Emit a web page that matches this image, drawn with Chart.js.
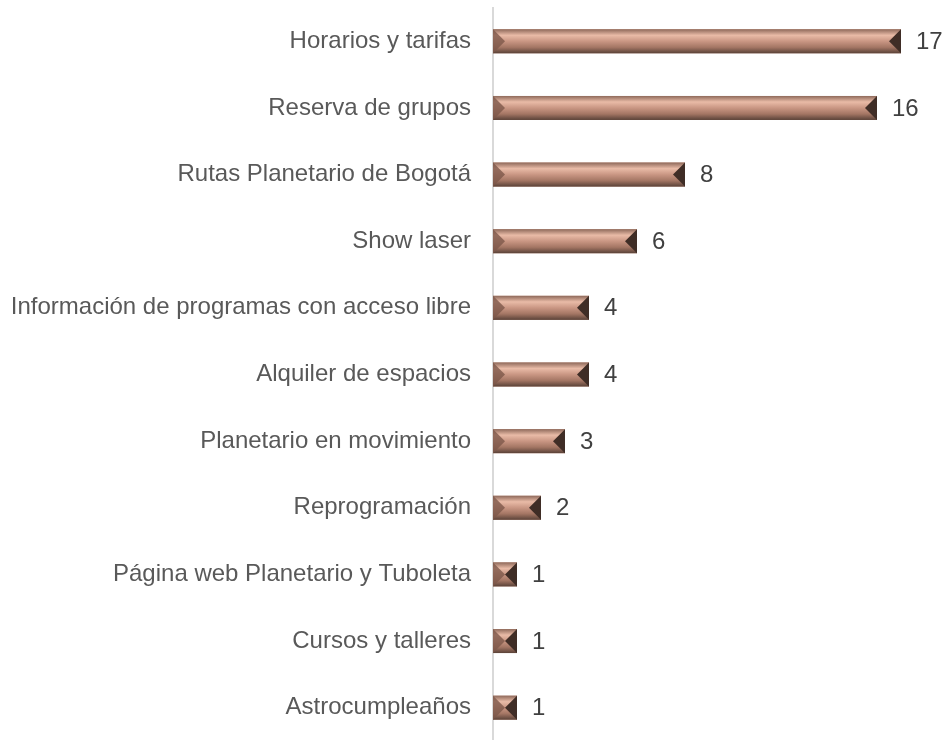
<!DOCTYPE html>
<html>
<head>
<meta charset="utf-8">
<script src="https://cdn.jsdelivr.net/npm/chart.js@4/dist/chart.umd.min.js"></script>
<style>
  html, body { margin: 0; padding: 0; background: #fff; overflow: hidden; }
  #wrap { width: 947px; height: 747px; }
</style>
</head>
<body>
<div id="wrap"><canvas id="chart"></canvas></div>
<script>
const categories = [
  'Horarios y tarifas',
  'Reserva de grupos',
  'Rutas Planetario de Bogotá',
  'Show laser',
  'Información de programas con acceso libre',
  'Alquiler de espacios',
  'Planetario en movimiento',
  'Reprogramación',
  'Página web Planetario y Tuboleta',
  'Cursos y talleres',
  'Astrocumpleaños'
];
const counts = [17, 16, 8, 6, 4, 4, 3, 2, 1, 1, 1];

// bevelled bar look, drawn over each bar using the element's own geometry
const bevelBars = {
  id: 'bevelBars',
  afterDatasetsDraw(chart) {
    const ctx = chart.ctx;
    const meta = chart.getDatasetMeta(0);
    meta.data.forEach((bar, i) => {
      const L = Math.min(bar.base, bar.x), R = Math.max(bar.base, bar.x);
      const T = bar.y - bar.height / 2, B = bar.y + bar.height / 2;
      const b = Math.min(bar.height / 2, (R - L) / 2);
      ctx.save();
      const g = ctx.createLinearGradient(0, T, 0, B);
      g.addColorStop(0, '#8f6a5b');
      g.addColorStop(0.25, '#e9bba7');
      g.addColorStop(0.5, '#c99683');
      g.addColorStop(0.75, '#a47664');
      g.addColorStop(1, '#5a4238');
      ctx.fillStyle = g;
      ctx.fillRect(L, T, R - L, B - T);
      // left facet
      ctx.fillStyle = 'rgba(125, 88, 74, 0.8)';
      ctx.beginPath();
      ctx.moveTo(L, T); ctx.lineTo(L + b, T + b); ctx.lineTo(L + b, B - b); ctx.lineTo(L, B);
      ctx.closePath(); ctx.fill();
      // right facet
      ctx.fillStyle = '#3f2d26';
      ctx.beginPath();
      ctx.moveTo(R, T); ctx.lineTo(R - b, T + b); ctx.lineTo(R - b, B - b); ctx.lineTo(R, B);
      ctx.closePath(); ctx.fill();
      // value label
      ctx.fillStyle = '#404040';
      ctx.font = '24px "Liberation Sans", Arial, sans-serif';
      ctx.textAlign = 'left';
      ctx.textBaseline = 'middle';
      ctx.fillText(String(counts[i]), R + 15, bar.y + 1);
      ctx.restore();
    });
  }
};

new Chart(document.getElementById('chart').getContext('2d'), {
  type: 'bar',
  data: {
    labels: categories,
    datasets: [{
      data: counts,
      backgroundColor: '#b98471',
      borderWidth: 0,
      barPercentage: 0.72,
      categoryPercentage: 0.5
    }]
  },
  options: {
    indexAxis: 'y',
    responsive: true,
    maintainAspectRatio: false,
    animation: false,
    layout: { padding: { top: 8, right: 46, bottom: 2, left: 0 } },
    plugins: {
      legend: { display: false },
      tooltip: { enabled: false }
    },
    scales: {
      x: {
        min: 0,
        max: 17,
        display: false
      },
      y: {
        afterFit(scale) { scale.width = 493; },
        border: { display: true, color: '#d9d9d9', width: 2 },
        grid: { display: true, color: 'transparent', drawTicks: true, tickLength: 22 },
        ticks: {
          color: '#595959',
          padding: 0,
          font: { family: '"Liberation Sans", Arial, sans-serif', size: 24, lineHeight: 0.5 }
        }
      }
    }
  },
  plugins: [bevelBars]
});
</script>
</body>
</html>
